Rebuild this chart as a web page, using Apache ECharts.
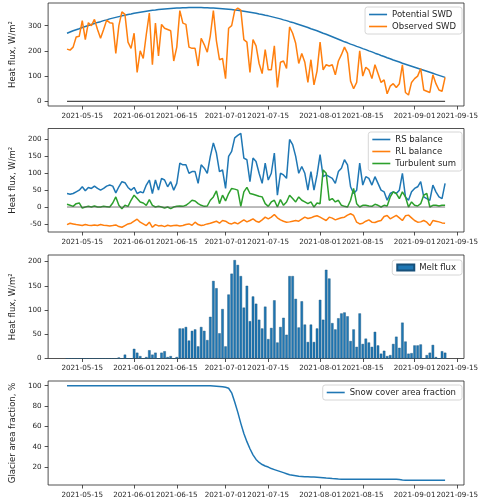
<!DOCTYPE html>
<html><head><meta charset="utf-8">
<script src="https://cdn.jsdelivr.net/npm/echarts@6/dist/echarts.min.js"></script>
<style>html,body{margin:0;padding:0;background:#fff}#c{width:481px;height:500px}</style>
</head><body><div id="c"></div>
<script>
// ---- data ----
const startDate = '2021-05-10';   // first daily value
const nDays = 125;                // 2021-05-10 .. 2021-09-11
const xTickLabels = ['2021-05-15','2021-06-01','2021-06-15','2021-07-01','2021-07-15','2021-08-01','2021-08-15','2021-09-01','2021-09-15'];

const potentialSWD = [270,275,280,284,288,293,297,301,305,309,313,316,320,323,327,330,333,336,339,341,344,346,349,351,353,355,357,359,361,362,364,365,366,367,368,369,370,370,371,371,372,372,372,
 372,372,371,371,370,370,369,368,367,366,365,364,362,361,359,357,355,353,351,349,346,344,341,339,336,333,330,327,323,320,
 316,313,309,305,301,297,293,288,284,280,275,270,266,261,256,251,246,241,236,232,227,223,218,214,209,205,200,196,191,187,
 182,178,173,169,164,160,156,151,147,143,139,135,131,127,123,119,115,111,107,103,99,95];
const observedSWD = [207,203,215,255,258,320,245,312,300,325,
 285,250,285,322,312,310,190,300,355,345,
 235,210,270,115,200,170,265,350,145,310,
 180,305,290,285,280,160,215,360,310,305,
 215,210,210,140,250,225,195,260,360,240,
 165,170,90,290,300,360,370,362,245,235,
 115,245,220,150,110,205,125,125,220,55,
 155,160,130,295,270,230,150,190,155,75,
 165,65,120,235,125,145,140,145,105,160,
 185,215,190,80,50,75,200,100,135,125,
 90,145,110,75,85,30,60,70,55,70,
 145,35,25,75,90,100,130,45,40,35,
 105,70,45,40,95];
const rsBalance = [40,38,40,45,50,60,48,58,55,62,
 55,50,55,62,65,62,42,60,75,72,
 58,50,58,40,45,42,65,80,40,80,
 50,85,80,60,75,50,70,130,125,125,
 100,105,105,70,125,115,100,150,190,160,
 105,110,55,150,165,205,212,218,145,140,
 75,145,135,100,70,130,80,100,160,35,
 100,95,85,200,185,150,100,120,100,50,
 105,50,95,155,90,95,90,85,70,105,
 115,140,125,60,40,50,130,65,90,85,
 65,90,70,50,45,20,40,45,40,50,
 100,30,20,45,55,60,75,30,25,20,
 65,45,30,25,70];
const rlBalance = [-52,-48,-50,-52,-53,-55,-52,-54,-55,-53,
 -55,-52,-54,-55,-56,-55,-53,-58,-60,-55,
 -50,-48,-42,-36,-45,-50,-55,-45,-60,-52,
 -56,-55,-58,-54,-56,-55,-54,-56,-55,-52,
 -50,-54,-45,-52,-55,-53,-50,-48,-45,-42,
 -48,-40,-42,-48,-50,-46,-50,-44,-38,-44,
 -40,-35,-42,-45,-38,-30,-35,-30,-22,-32,
 -38,-42,-45,-44,-42,-40,-42,-36,-30,-34,
 -32,-28,-26,-30,-35,-40,-30,-33,-38,-35,
 -32,-30,-24,-20,-25,-45,-50,-48,-42,-38,
 -45,-46,-42,-40,-28,-25,-35,-30,-25,-32,
 -40,-26,-24,-32,-40,-45,-44,-40,-45,-55,
 -40,-42,-44,-47,-48];
const turbulentSum = [8,5,2,10,12,-3,0,2,0,3,
 0,0,2,1,0,12,30,5,-5,5,
 2,20,35,25,15,12,5,22,5,0,
 2,0,-3,0,-5,0,2,3,2,5,
 12,20,18,10,5,2,3,20,30,48,
 10,35,18,40,55,53,50,2,45,58,
 40,38,35,32,30,10,2,15,20,0,
 22,5,15,35,25,15,30,20,15,10,
 15,0,12,10,110,100,20,25,15,20,
 5,2,0,20,55,10,0,5,5,3,
 2,8,5,0,5,3,30,45,40,25,
 45,30,0,15,5,3,10,35,40,0,
 5,5,3,5,5];
const meltFlux = [0,0,0,0,0,0,0,0,0,0,
 0,0,0,0,0,0,0,2,0,8,
 0,0,20,12,5,0,3,17,8,12,
 0,12,15,3,5,0,3,62,62,65,
 37,57,60,25,65,57,38,86,160,145,
 52,102,25,132,175,203,193,170,105,150,
 77,128,113,80,62,107,40,63,120,33,
 65,84,49,170,170,123,64,118,70,34,
 70,34,62,121,80,183,165,73,60,83,
 93,95,87,36,60,24,93,30,41,33,
 24,55,27,10,16,5,7,30,45,22,
 74,35,10,11,27,27,29,0,7,12,
 28,3,0,15,12];
const snowCover = [100,100,100,100,100,100,100,100,100,100,
 100,100,100,100,100,100,100,100,100,100,
 100,100,100,100,100,100,100,100,100,100,
 100,100,100,100,100,100,100,100,100,100,
 100,100,100,100,100,100,100,100,99.8,99.6,
 99.3,99,98.5,97.5,93,84,74,63,53,45,
 38,32,27.5,24.5,22.5,21,20,18.5,17.5,16.5,
 15.5,14.5,13.5,12.5,12,11.5,11,10.8,10.5,10.4,
 10.3,10.2,10,9.8,9.5,9.2,9,8.7,8.5,8.2,
 8,8,8,8,8,8,8,8,8,8,
 8,8,8,8,8,8,8,8,8,7.8,
 7.3,7,7,7,7,7,7,7,7,7,
 7,7,7,7,7];
const y1Ticks = [0,100,200,300];
const y2Ticks = [-50,0,50,100,150,200];
const y3Ticks = [0,50,100,150,200];
const y4Ticks = [20,40,60,80,100];

// ---- build ----
function parseDay(s){const p=s.split('-');return new Date(+p[0],+p[1]-1,+p[2]).getTime();}
const t0 = parseDay(startDate);
const dates = [];
for (let i=0;i<nDays;i++){const d=new Date(t0); d.setDate(d.getDate()+i); dates.push(d.getTime());}
const xTickVals = xTickLabels.map(parseDay);
const pad2 = n => (n<10?'0':'')+n;
const fmtDate = v => {const d=new Date(v);return d.getFullYear()+'-'+pad2(d.getMonth()+1)+'-'+pad2(d.getDate());};
const pair = arr => arr.map((v,i)=>[dates[i],v]);
const span = dates[nDays-1]-dates[0];
const xMin = dates[0]-0.05*span, xMax = dates[nDays-1]+0.05*span;

const FONT = 'DejaVu Sans';
const INK = '#262626';
const grids = [
  {top:3, height:103},
  {top:128.5, height:103.5},
  {top:255, height:103.5},
  {top:381, height:104}
].map(g=>Object.assign({left:38,right:16,show:true,borderColor:INK,borderWidth:0.8,backgroundColor:'#fff'},g));

const xAxes = grids.map((g,i)=>({
  type:'value', gridIndex:i, min:xMin, max:xMax, scale:true,
  axisLine:{show:false,onZero:false},
  splitLine:{show:false},
  axisTick:{show:true,length:3.5,lineStyle:{color:INK,width:0.8},customValues:xTickVals},
  axisLabel:{show:true,margin:6.5,fontSize:7.2,fontFamily:FONT,color:INK,customValues:xTickVals,formatter:fmtDate,hideOverlap:false,showMinLabel:true,showMaxLabel:true}
}));
function yAxis(i,min,max,ticks,name){
  return {type:'value',gridIndex:i,min:min,max:max,
    name:name,nameLocation:'middle',nameGap:22,
    nameTextStyle:{fontSize:8.5,fontFamily:FONT,color:INK},
    axisLine:{show:false,onZero:false},splitLine:{show:false},
    axisTick:{show:true,length:3.5,lineStyle:{color:INK,width:0.8},customValues:ticks},
    axisLabel:{show:true,margin:6.5,fontSize:7.2,fontFamily:FONT,color:INK,customValues:ticks}};
}
const yAxes = [
  yAxis(0,-18.6,390,y1Ticks,'Heat flux, W/m²'),
  yAxis(1,-74,232.6,y2Ticks,'Heat flux, W/m²'),
  yAxis(2,0,213.5,y3Ticks,'Heat flux, W/m²'),
  yAxis(3,2.35,104.65,y4Ticks,'Glacier area fraction, %')
];

function lineS(name,data,color,gi){
  return {type:'line',name:name,data:pair(data),xAxisIndex:gi,yAxisIndex:gi,
    showSymbol:false,symbol:'none',lineStyle:{color:color,width:1.5},itemStyle:{color:color},
    animation:false,silent:true};
}
const zeroLine = gi => ({type:'line',name:'zero'+gi,data:[[dates[0],0],[dates[nDays-1],0]],xAxisIndex:gi,yAxisIndex:gi,
  showSymbol:false,symbol:'none',lineStyle:{color:gi===0?'#222':'#555',width:gi===0?1:0.8},animation:false,silent:true});

const BLUE='#1f77b4', ORANGE='#ff7f0e', GREEN='#2ca02c';
const series = [
  zeroLine(0),
  lineS('Potential SWD',potentialSWD,BLUE,0),
  lineS('Observed SWD',observedSWD,ORANGE,0),
  lineS('RS balance',rsBalance,BLUE,1),
  lineS('RL balance',rlBalance,ORANGE,1),
  lineS('Turbulent sum',turbulentSum,GREEN,1),
  zeroLine(1),
  {type:'bar',name:'Melt flux',data:pair(meltFlux),xAxisIndex:2,yAxisIndex:2,barWidth:2.5,
   itemStyle:{color:BLUE,borderColor:'#17507a',borderWidth:0.4},animation:false,silent:true},
  lineS('Snow cover area fraction',snowCover,BLUE,3)
];

function legend(names,top,icon,iw,ih){
  return {data:names,orient:'vertical',right:19,top:top,icon:icon,itemWidth:iw,itemHeight:ih,itemGap:3,
    padding:[3,6,3,4],backgroundColor:'rgba(255,255,255,0.85)',borderColor:'#cccccc',borderWidth:0.8,borderRadius:2.5,
    textStyle:{fontSize:8.5,fontFamily:FONT,color:INK},selectedMode:false};
}
const legends = [
  legend(['Potential SWD','Observed SWD'],7,'rect',18,1.6),
  legend(['RS balance','RL balance','Turbulent sum'],132,'rect',18,1.6),
  legend(['Melt flux'],260,'rect',17,6),
  legend(['Snow cover area fraction'],385,'rect',18,1.6)
];

const chart = echarts.init(document.getElementById('c'),null,{renderer:'canvas'});
chart.setOption({animation:false,backgroundColor:'#fff',grid:grids,xAxis:xAxes,yAxis:yAxes,legend:legends,series:series});
</script></body></html>
